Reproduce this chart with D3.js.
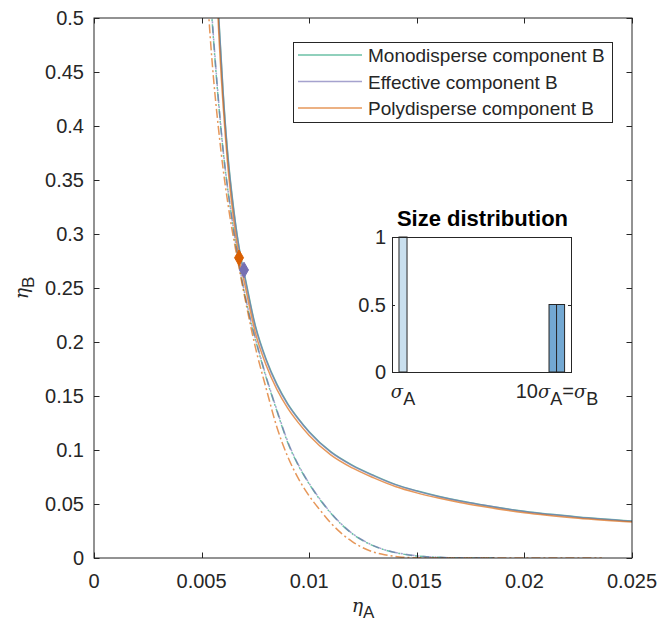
<!DOCTYPE html>
<html><head><meta charset="utf-8">
<script src="https://cdn.jsdelivr.net/npm/d3@7"></script>
<style>body{margin:0;background:#fff}text{font-family:"Liberation Sans",Arial,sans-serif;fill:#262626}</style>
</head><body><svg id="c" width="661" height="632"></svg>
<script>
// ---------- data ----------
const xTicks = [0, 0.005, 0.01, 0.015, 0.02, 0.025];
const xTickLabels = ["0", "0.005", "0.01", "0.015", "0.02", "0.025"];
const yTicks = [0, 0.05, 0.1, 0.15, 0.2, 0.25, 0.3, 0.35, 0.4, 0.45, 0.5];
const yTickLabels = ["0", "0.05", "0.1", "0.15", "0.2", "0.25", "0.3", "0.35", "0.4", "0.45", "0.5"];

const seriesNames = ["Monodisperse component B", "Effective component B", "Polydisperse component B"];

// solid curves (eta_A, eta_B)
const monoSolidA = [0.0054, 0.0056, 0.0058, 0.0060, 0.0062, 0.0065, 0.0068, 0.0070, 0.0075, 0.0080, 0.0085, 0.0090, 0.0095, 0.0100, 0.0110, 0.0120, 0.0130, 0.0140, 0.0150, 0.0160, 0.0170, 0.0180, 0.0200, 0.0225, 0.0250];
const monoSolidB = [0.700, 0.590, 0.500, 0.432, 0.378, 0.322, 0.281, 0.262, 0.215, 0.184, 0.161, 0.143, 0.129, 0.117, 0.0985, 0.0860, 0.0765, 0.0682, 0.0622, 0.0572, 0.0530, 0.0494, 0.0432, 0.0380, 0.0343];
const effSolidA = [0.0054, 0.0056, 0.0058, 0.0060, 0.0062, 0.0065, 0.0068, 0.0070, 0.0075, 0.0080, 0.0085, 0.0090, 0.0095, 0.0100, 0.0110, 0.0120, 0.0130, 0.0140, 0.0150, 0.0160, 0.0170, 0.0180, 0.0200, 0.0225, 0.0250];
const effSolidB = [0.697, 0.587, 0.498, 0.430, 0.376, 0.320, 0.280, 0.2605, 0.214, 0.183, 0.160, 0.1423, 0.1284, 0.1164, 0.0980, 0.0856, 0.0761, 0.0679, 0.0619, 0.0569, 0.0527, 0.0492, 0.0430, 0.0378, 0.0341];
const polySolidA = [0.0054, 0.0056, 0.0058, 0.0060, 0.0062, 0.0065, 0.0068, 0.0070, 0.0075, 0.0080, 0.0085, 0.0090, 0.0095, 0.0100, 0.0110, 0.0120, 0.0130, 0.0140, 0.0150, 0.0160, 0.0170, 0.0180, 0.0200, 0.0225, 0.0250];
const polySolidB = [0.679, 0.572, 0.485, 0.419, 0.367, 0.312, 0.2725, 0.254, 0.2085, 0.1785, 0.156, 0.1387, 0.1251, 0.1135, 0.0955, 0.0834, 0.0742, 0.0662, 0.0603, 0.0555, 0.0514, 0.0479, 0.0419, 0.0369, 0.0333];

// dash-dot curves
const monoDashA = [0.0051, 0.00548, 0.0060, 0.0064, 0.0068, 0.0072, 0.0076, 0.0080, 0.0085, 0.0090, 0.0095, 0.0100, 0.0105, 0.0110, 0.0115, 0.0120, 0.0127, 0.0135, 0.0142, 0.0150, 0.0160, 0.0170, 0.0186];
const monoDashB = [0.620, 0.500, 0.377, 0.315, 0.265, 0.226, 0.195, 0.167, 0.136, 0.107, 0.0855, 0.0685, 0.0540, 0.0415, 0.0310, 0.0225, 0.0139, 0.0075, 0.0042, 0.0019, 0.0006, 0.0001, 0.0];
const effDashA = [0.0051, 0.00549, 0.0060, 0.0064, 0.0068, 0.0072, 0.0076, 0.0080, 0.0085, 0.0090, 0.0095, 0.0100, 0.0105, 0.0110, 0.0115, 0.0120, 0.0127, 0.0135, 0.0142, 0.0150, 0.0160, 0.0170, 0.0186];
const effDashB = [0.618, 0.500, 0.378, 0.316, 0.266, 0.227, 0.196, 0.168, 0.137, 0.108, 0.0862, 0.0690, 0.0545, 0.0420, 0.0314, 0.0228, 0.0142, 0.0077, 0.0044, 0.0020, 0.0007, 0.0001, 0.0];
const polyDashA = [0.0050, 0.00534, 0.0059, 0.0063, 0.0067, 0.0071, 0.0075, 0.0080, 0.0085, 0.0090, 0.0095, 0.0100, 0.0105, 0.0110, 0.0115, 0.0120, 0.0127, 0.0135, 0.0142, 0.0150, 0.0160, 0.0236];
const polyDashB = [0.620, 0.500, 0.377, 0.318, 0.273, 0.232, 0.195, 0.157, 0.121, 0.094, 0.0735, 0.0575, 0.0445, 0.0325, 0.0228, 0.0152, 0.0076, 0.0030, 0.0010, 0.0002, 0.0, 0.0];

// marker points
const markerA = [0.00674, 0.00697];
const markerB = [0.278, 0.2667];

// inset: size distribution
const sizeX = [1, 9.77, 10.21];
const sizeFrac = [1, 0.5, 0.5];
const insetYTicks = [0, 0.5, 1];
const insetYTickLabels = ["0", "0.5", "1"];

// ---------- drawing ----------
const svg = d3.select("#c");
const W = 661, H = 632;
const L = 94, R = 632, T = 18, B = 558;
const x = d3.scaleLinear().domain([0, 0.025]).range([L, R]);
const y = d3.scaleLinear().domain([0, 0.5]).range([B, T]);

const colTeal = "#1b9e77", colPurple = "#7570b3", colOrange = "#d95f02";
const lineAlpha = 0.65;

svg.append("rect").attr("width", W).attr("height", H).attr("fill", "#fff");

svg.append("clipPath").attr("id", "clip").append("rect")
  .attr("x", L).attr("y", T).attr("width", R - L).attr("height", B - T);

const g = svg.append("g").attr("clip-path", "url(#clip)");
const line = d3.line().x(d => x(d[0])).y(d => y(d[1])).curve(d3.curveMonotoneX);
const zipP = (a, b) => a.map((v, i) => [v, b[i]]);

const dashPattern = "9,3,2,3";
const curves = [
  [monoDashA, monoDashB, colTeal, dashPattern],
  [effDashA, effDashB, colPurple, dashPattern],
  [polyDashA, polyDashB, colOrange, dashPattern],
  [monoSolidA, monoSolidB, colTeal, null],
  [effSolidA, effSolidB, colPurple, null],
  [polySolidA, polySolidB, colOrange, null]
];
curves.forEach(([a, b, c, d]) => {
  const p = g.append("path").datum(zipP(a, b)).attr("d", line)
    .attr("fill", "none").attr("stroke", c).attr("stroke-width", 1.5)
    .attr("stroke-opacity", lineAlpha);
  if (d) p.attr("stroke-dasharray", d);
});

// diamonds
const diamond = d3.symbol().type(d3.symbolDiamond).size(70);
const mCols = [colOrange, colPurple];
zipP(markerA, markerB).forEach((p, i) => {
  g.append("path").attr("d", diamond)
    .attr("transform", `translate(${x(p[0])},${y(p[1])})`)
    .attr("fill", mCols[i]).attr("stroke", mCols[i]).attr("stroke-width", 1);
});

// axes box and ticks
const axCol = "#262626";
svg.append("rect").attr("x", L).attr("y", T).attr("width", R - L).attr("height", B - T)
  .attr("fill", "none").attr("stroke", axCol).attr("stroke-width", 1);
const tl = 5.5;
xTicks.forEach((t, i) => {
  const px = Math.round(x(t)) + 0.5;
  svg.append("line").attr("x1", px).attr("x2", px).attr("y1", B).attr("y2", B - tl).attr("stroke", axCol);
  svg.append("line").attr("x1", px).attr("x2", px).attr("y1", T).attr("y2", T + tl).attr("stroke", axCol);
  svg.append("text").attr("x", x(t)).attr("y", B + 30).attr("text-anchor", "middle")
    .attr("font-size", 20).text(xTickLabels[i]);
});
yTicks.forEach((t, i) => {
  const py = Math.round(y(t)) + 0.5;
  svg.append("line").attr("x1", L).attr("x2", L + tl).attr("y1", py).attr("y2", py).attr("stroke", axCol);
  svg.append("line").attr("x1", R).attr("x2", R - tl).attr("y1", py).attr("y2", py).attr("stroke", axCol);
  svg.append("text").attr("x", L - 10).attr("y", y(t) + 7).attr("text-anchor", "end")
    .attr("font-size", 20).text(yTickLabels[i]);
});

// axis labels
const xl = svg.append("text").attr("x", x(0.0125)).attr("y", 612).attr("text-anchor", "middle").attr("font-size", 20);
xl.append("tspan").attr("font-family", "DejaVu Serif").attr("font-style", "italic").attr("font-size", 19).text("η");
xl.append("tspan").attr("dy", 6).attr("font-size", 17).text("A");
const yl = svg.append("text").attr("transform", `translate(28,${y(0.25)}) rotate(-90)`).attr("text-anchor", "middle").attr("font-size", 20);
yl.append("tspan").attr("font-family", "DejaVu Serif").attr("font-style", "italic").attr("font-size", 19).text("η");
yl.append("tspan").attr("dy", 6).attr("font-size", 17).text("B");

// legend
const lg = svg.append("g");
lg.append("rect").attr("x", 293.5).attr("y", 42.5).attr("width", 319).attr("height", 80)
  .attr("fill", "#fff").attr("stroke", axCol).attr("stroke-width", 1);
const legCols = [colTeal, colPurple, colOrange];
const rowY = [55, 81.5, 108];
seriesNames.forEach((n, i) => {
  lg.append("line").attr("x1", 298).attr("x2", 362).attr("y1", rowY[i]).attr("y2", rowY[i])
    .attr("stroke", legCols[i]).attr("stroke-width", 1.5).attr("stroke-opacity", lineAlpha);
  lg.append("text").attr("x", 368).attr("y", rowY[i] + 7).attr("font-size", 19).text(n);
});

// inset
const iL = 392, iR = 571, iT = 237, iB = 372;
const ix = d3.scaleLinear().domain([0.357, 10.82]).range([iL, iR]);
const iy = d3.scaleLinear().domain([0, 1]).range([iB, iT]);
const ig = svg.append("g");
ig.append("rect").attr("x", iL).attr("y", iT).attr("width", iR - iL).attr("height", iB - iT).attr("fill", "#fff");
const bw = ix(0.47) - ix(0);
const barFill = ["#c9dfee", "#73a8d2", "#73a8d2"];
sizeX.forEach((s, i) => {
  ig.append("rect").attr("x", ix(s) - bw / 2).attr("y", iy(sizeFrac[i]))
    .attr("width", bw).attr("height", iy(0) - iy(sizeFrac[i]))
    .attr("fill", barFill[i]).attr("stroke", axCol).attr("stroke-width", 1);
});
ig.append("rect").attr("x", iL + 0.5).attr("y", iT + 0.5).attr("width", iR - iL).attr("height", iB - iT)
  .attr("fill", "none").attr("stroke", axCol).attr("stroke-width", 1);
insetYTicks.forEach((t, i) => {
  const py = Math.round(iy(t)) + 0.5;
  ig.append("line").attr("x1", iL).attr("x2", iL + 3).attr("y1", py).attr("y2", py).attr("stroke", axCol);
  ig.append("line").attr("x1", iR).attr("x2", iR - 3).attr("y1", py).attr("y2", py).attr("stroke", axCol);
  ig.append("text").attr("x", iL - 6).attr("y", iy(t) + 7).attr("text-anchor", "end").attr("font-size", 20).text(insetYTickLabels[i]);
});
ig.append("text").attr("x", (iL + iR) / 2 + 1).attr("y", 226).attr("text-anchor", "middle")
  .attr("font-size", 22).attr("font-weight", "bold").style("fill", "#000").text("Size distribution");
const s1 = ig.append("text").attr("x", ix(1)).attr("y", 398).attr("text-anchor", "middle").attr("font-size", 20);
s1.append("tspan").attr("font-family", "DejaVu Serif").attr("font-style", "italic").attr("font-size", 18).text("σ");
s1.append("tspan").attr("dy", 7).attr("font-size", 18).text("A");
const s2 = ig.append("text").attr("x", ix(10)).attr("y", 398).attr("text-anchor", "middle").attr("font-size", 20);
s2.append("tspan").text("10");
s2.append("tspan").attr("font-family", "DejaVu Serif").attr("font-style", "italic").attr("font-size", 18).text("σ");
s2.append("tspan").attr("dy", 7).attr("font-size", 18).text("A");
s2.append("tspan").attr("dy", -7).text("=");
s2.append("tspan").attr("font-family", "DejaVu Serif").attr("font-style", "italic").attr("font-size", 18).text("σ");
s2.append("tspan").attr("dy", 7).attr("font-size", 18).text("B");
</script></body></html>
